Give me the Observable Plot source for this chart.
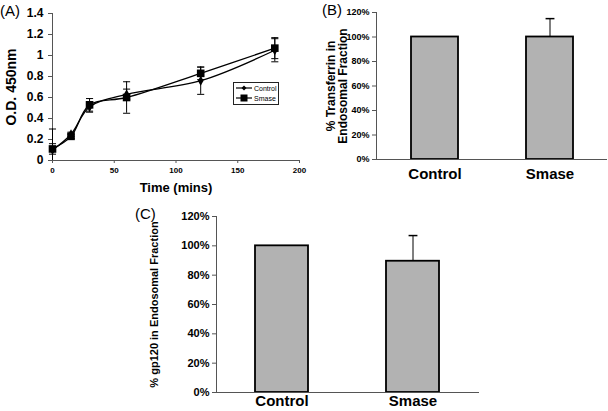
<!DOCTYPE html>
<html><head><meta charset="utf-8">
<script src="https://cdn.jsdelivr.net/npm/d3@7"></script>
<script src="https://cdn.jsdelivr.net/npm/@observablehq/plot@0.6"></script>
<style>
body{margin:0;background:#fff;}
#wrap{position:relative;width:608px;height:411px;overflow:hidden;font-family:"Liberation Sans",Arial,sans-serif;color:#000;}
.panel{position:absolute;}
.tag{position:absolute;font-size:15px;line-height:15px;color:#000;}
#legendA{position:absolute;left:233px;top:82px;width:44px;height:21px;border:1px solid #222;background:#fff;font-size:7px;color:#000;}
#legendA .row{display:flex;align-items:center;height:10px;margin-left:2px;}
#legendA span{color:#000;}
#legendA svg{margin-right:2px;}
g[aria-label="y-axis label"]{font-size:14px;}
g[aria-label="x-axis label"]{font-size:13px;}
#pB g[aria-label="y-axis label"]{font-size:12px;}
#pC g[aria-label="y-axis label"]{font-size:11px;}
</style></head><body><div id="wrap"></div>
<script>
// ---- Panel A data ----
const times = [0, 15, 30, 60, 120, 180];
const controlOD = [0.10, 0.25, 0.51, 0.63, 0.76, 1.05];
const controlErr = [0.20, 0.02, 0.05, 0.05, 0.13, 0.11];
const smaseOD = [0.11, 0.23, 0.53, 0.60, 0.83, 1.07];
const smaseErr = [0.05, 0.02, 0.06, 0.15, 0.06, 0.10];
const seriesNames = ["Control", "Smase"];
const xTicksA = [0, 50, 100, 150, 200];
const yTicksA = [0, 0.2, 0.4, 0.6, 0.8, 1, 1.2, 1.4];
// ---- Panel B / C data ----
const categories = ["Control", "Smase"];
const transferrin = [1.00, 1.00];
const transferrinErr = [0, 0.15];
const gp120 = [1.00, 0.895];
const gp120Err = [0, 0.175];
const pctTicks = [0, 0.2, 0.4, 0.6, 0.8, 1.0, 1.2];

const FONT = '"Liberation Sans", Arial, sans-serif';
const AXIS = "#555";
const BAR = "#b2b2b2";
const cap = {draw(ctx, size){ const w = Math.sqrt(size); ctx.moveTo(-w, 0); ctx.lineTo(w, 0); }};

const wrap = document.getElementById("wrap");
function place(el, id, left, top){ el.id = id; el.classList.add("panel"); el.style.left = left + "px"; el.style.top = top + "px"; wrap.appendChild(el); }

// ---- Panel A ----
const seriesData = [
  {name: seriesNames[0], v: controlOD, e: controlErr},
  {name: seriesNames[1], v: smaseOD, e: smaseErr}
];
const rowsA = seriesData.flatMap(s => times.map((t, i) => ({
  series: s.name, t, od: s.v[i], lo: Math.max(0, s.v[i] - s.e[i]), hi: s.v[i] + s.e[i]
})));
const capsA = rowsA.flatMap(d => [{t: d.t, y: d.hi}].concat(d.lo > 0 ? [{t: d.t, y: d.lo}] : []));

const plotA = Plot.plot({
  width: 310, height: 195,
  marginLeft: 52, marginRight: 11, marginTop: 13, marginBottom: 35,
  style: {fontFamily: FONT, fontWeight: "bold", color: "#000", background: "transparent", overflow: "visible"},
  x: {domain: [0, 200]},
  y: {domain: [0, 1.4]},
  marks: [
    Plot.axisY({ticks: yTicksA, tickFormat: d => String(+d.toFixed(1)), fontSize: 12, tickSize: 4, tickPadding: 5,
      stroke: AXIS, label: "O.D. 450nm", labelAnchor: "center", labelArrow: "none", labelOffset: 46}),
    Plot.axisX({ticks: xTicksA, tickFormat: d => String(d), fontSize: 8, tickSize: 3, tickPadding: 4,
      stroke: AXIS, label: "Time (mins)", labelAnchor: "center", labelArrow: "none", labelOffset: 31}),
    Plot.ruleX([0], {stroke: AXIS}),
    Plot.ruleY([0], {stroke: AXIS}),
    Plot.ruleX(rowsA, {x: "t", y1: "lo", y2: "hi", stroke: "#000", strokeWidth: 1}),
    Plot.dot(capsA, {x: "t", y: "y", symbol: cap, r: 2, stroke: "#000", fill: "none", strokeWidth: 1}),
    Plot.line(rowsA, {x: "t", y: "od", z: "series", curve: "catmull-rom", stroke: "#000", strokeWidth: 1.3}),
    Plot.dot(rowsA.filter(d => d.series === "Control"), {x: "t", y: "od", symbol: "diamond", r: 3, fill: "#000"}),
    Plot.dot(rowsA.filter(d => d.series === "Smase"), {x: "t", y: "od", symbol: "square", r: 4.3, fill: "#000"})
  ]
});
place(plotA, "pA", 0, 0);

// legend A
const leg = document.createElement("div");
leg.id = "legendA";
leg.innerHTML = seriesNames.map((n, i) => `<div class="row"><svg width="16" height="8"><line x1="0" x2="16" y1="4" y2="4" stroke="#000" stroke-width="1.2"/>${
  i === 0 ? '<path d="M8,1.5L10.5,4L8,6.5L5.5,4Z" fill="#000"/>' : '<rect x="4.5" y="0.5" width="7" height="7" fill="#000"/>'
}</svg><span>${n}</span></div>`).join("");
wrap.appendChild(leg);

// ---- Bar panels ----
function barPanel({values, errs, label, width, height, margins, labelOffset, catPadding, tickFont}){
  const rows = categories.map((c, i) => ({cat: c, v: values[i], hi: values[i] + errs[i], e: errs[i]}));
  const errRows = rows.filter(d => d.e > 0);
  return Plot.plot({
    width, height,
    marginLeft: margins[0], marginRight: margins[1], marginTop: margins[2], marginBottom: margins[3],
    style: {fontFamily: FONT, fontWeight: "bold", color: "#000", background: "transparent", overflow: "visible"},
    x: {domain: categories, paddingInner: 0.593, paddingOuter: 0.2965},
    y: {domain: [0, 1.2]},
    marks: [
      Plot.axisY({ticks: pctTicks, tickFormat: d3.format(".0%"), fontSize: tickFont, tickSize: 4, tickPadding: 3,
        stroke: AXIS, label, labelAnchor: "center", labelArrow: "none", labelOffset}),
      Plot.axisX({tickSize: 0, fontSize: 15, tickPadding: catPadding, label: null}),
      Plot.frame({anchor: "left", stroke: AXIS}),
      Plot.ruleX(errRows, {x: "cat", y1: "v", y2: "hi", stroke: "#000", strokeWidth: 1}),
      Plot.dot(errRows, {x: "cat", y: "hi", symbol: cap, r: 2.5, stroke: "#000", fill: "none"}),
      Plot.barY(rows, {x: "cat", y: "v", fill: BAR, stroke: "#000", strokeWidth: 1.8}),
      Plot.ruleY([0], {stroke: AXIS})
    ]
  });
}

const plotB = barPanel({values: transferrin, errs: transferrinErr, label: "% Transferrin in\nEndosomal Fraction",
  width: 308, height: 200, margins: [76, 1, 12, 41], labelOffset: 50, catPadding: 9, tickFont: 9});
place(plotB, "pB", 300, 0);

const plotC = barPanel({values: gp120, errs: gp120Err, label: "% gp120 in Endosomal Fraction",
  width: 370, height: 216, margins: [96, 11, 21, 19], labelOffset: 66, catPadding: 3, tickFont: 11});
place(plotC, "pC", 120, 195);

// panel tags
[["(A)", 0, 3], ["(B)", 322, 2], ["(C)", 135, 206]].forEach(([t, x, y]) => {
  const d = document.createElement("div"); d.className = "tag"; d.textContent = t;
  d.style.left = x + "px"; d.style.top = y + "px"; wrap.appendChild(d);
});
</script></body></html>
